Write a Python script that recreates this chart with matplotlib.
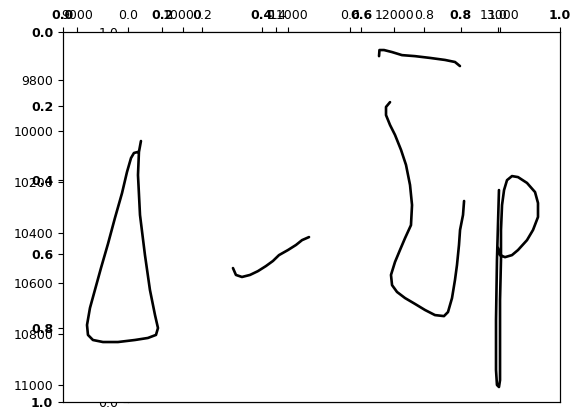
import numpy as np
import matplotlib
matplotlib.use("Agg")
import matplotlib.pyplot as plt

# pen strokes (x, y in tablet units)
stroke_a_x = [9605, 9586, 9577, 9596, 9643, 9690, 9738, 9766, 9747, 9671, 9548, 9388, 9246,
              9151, 9104, 9095, 9123, 9170, 9227, 9293, 9359, 9426, 9473, 9511, 9539, 9577]
stroke_a_y = [10040, 10083, 10174, 10331, 10489, 10626, 10725, 10776, 10803, 10815, 10823, 10831, 10831,
              10823, 10803, 10764, 10697, 10626, 10540, 10445, 10343, 10245, 10162, 10107, 10087, 10083]

stroke_b_x = [10475, 10503, 10560, 10636, 10711, 10787, 10853, 10910, 10995, 11071, 11128, 11194]
stroke_b_y = [10540, 10567, 10575, 10567, 10552, 10532, 10512, 10489, 10469, 10449, 10430, 10418]

stroke_c_x = [11856, 11860, 11903, 11979, 12073, 12196, 12338, 12480, 12574, 12621]
stroke_c_y = [9706, 9682, 9682, 9690, 9702, 9706, 9713, 9721, 9729, 9745]

stroke_d_x = [11960, 11922, 11922, 11960, 12007, 12064, 12111, 12149, 12168, 12158, 12102, 12054, 12007,
              11969, 11979, 12026, 12102, 12196, 12291, 12385, 12470, 12508, 12546, 12574, 12593, 12612,
              12622, 12650, 12660]
stroke_d_y = [9887, 9906, 9938, 9977, 10016, 10075, 10134, 10213, 10292, 10371, 10422, 10469, 10516,
              10567, 10607, 10634, 10658, 10681, 10705, 10725, 10729, 10713, 10658, 10587, 10528, 10449,
              10390, 10331, 10276]

stroke_e_x = [12990, 12971, 12962, 12962, 12971, 12990, 13000, 13000, 13000, 13009, 13009, 13019, 13038,
              13066, 13113, 13170, 13255, 13331, 13359, 13359, 13312, 13255, 13170, 13113, 13047, 13000, 12981]
stroke_e_y = [10233, 10508, 10744, 10941, 11000, 11008, 10981, 10823, 10666, 10508, 10390, 10292, 10233,
              10194, 10178, 10182, 10205, 10241, 10284, 10339, 10390, 10430, 10469, 10489, 10497, 10489, 10461]

strokes = [(stroke_a_x, stroke_a_y), (stroke_b_x, stroke_b_y), (stroke_c_x, stroke_c_y),
           (stroke_d_x, stroke_d_y), (stroke_e_x, stroke_e_y)]

data_xticks = [9000, 10000, 11000, 12000, 13000]
data_yticks = [9800, 10000, 10200, 10400, 10600, 10800, 11000]
unit_ticks = [0.0, 0.2, 0.4, 0.6, 0.8, 1.0]

fig = plt.figure(figsize=(5.81, 4.18), dpi=100, facecolor='w')
box = [63 / 581, 1 - 402 / 418, 497 / 581, 370 / 418]

# inner 0-1 axes, mostly hidden behind the others
ax3 = fig.add_axes([128 / 581, box[1], 370 / 581, box[3]])
ax3.set_xlim(0, 1)
ax3.set_ylim(0, 1)
ax3.xaxis.tick_top()
ax3.set_xticks(unit_ticks)
ax3.set_yticks(unit_ticks)
ax3.tick_params(labelsize=9)

# empty 0-1 axes with bold labels
ax1 = fig.add_axes(box)
ax1.set_facecolor('w')
ax1.set_xlim(0, 1)
ax1.set_ylim(1, 0)
ax1.xaxis.tick_top()
ax1.set_xticks(unit_ticks)
ax1.set_yticks(unit_ticks)
ax1.set_xticklabels([f"{t:.1f}" for t in unit_ticks], fontweight='bold', fontsize=9)
ax1.set_yticklabels([f"{t:.1f}" for t in unit_ticks], fontweight='bold', fontsize=9)

# data axes with the strokes
ax2 = fig.add_axes(box)
ax2.patch.set_alpha(0)
for sx, sy in strokes:
    ax2.plot(sx, sy, color='k', lw=1.9, solid_capstyle='round', solid_joinstyle='round')
ax2.set_xlim(8868, 13567)
ax2.set_ylim(11067, 9611)
ax2.xaxis.tick_top()
ax2.set_xticks(data_xticks)
ax2.set_yticks(data_yticks)
ax2.tick_params(labelsize=9)

plt.savefig("out.png", dpi=100)
